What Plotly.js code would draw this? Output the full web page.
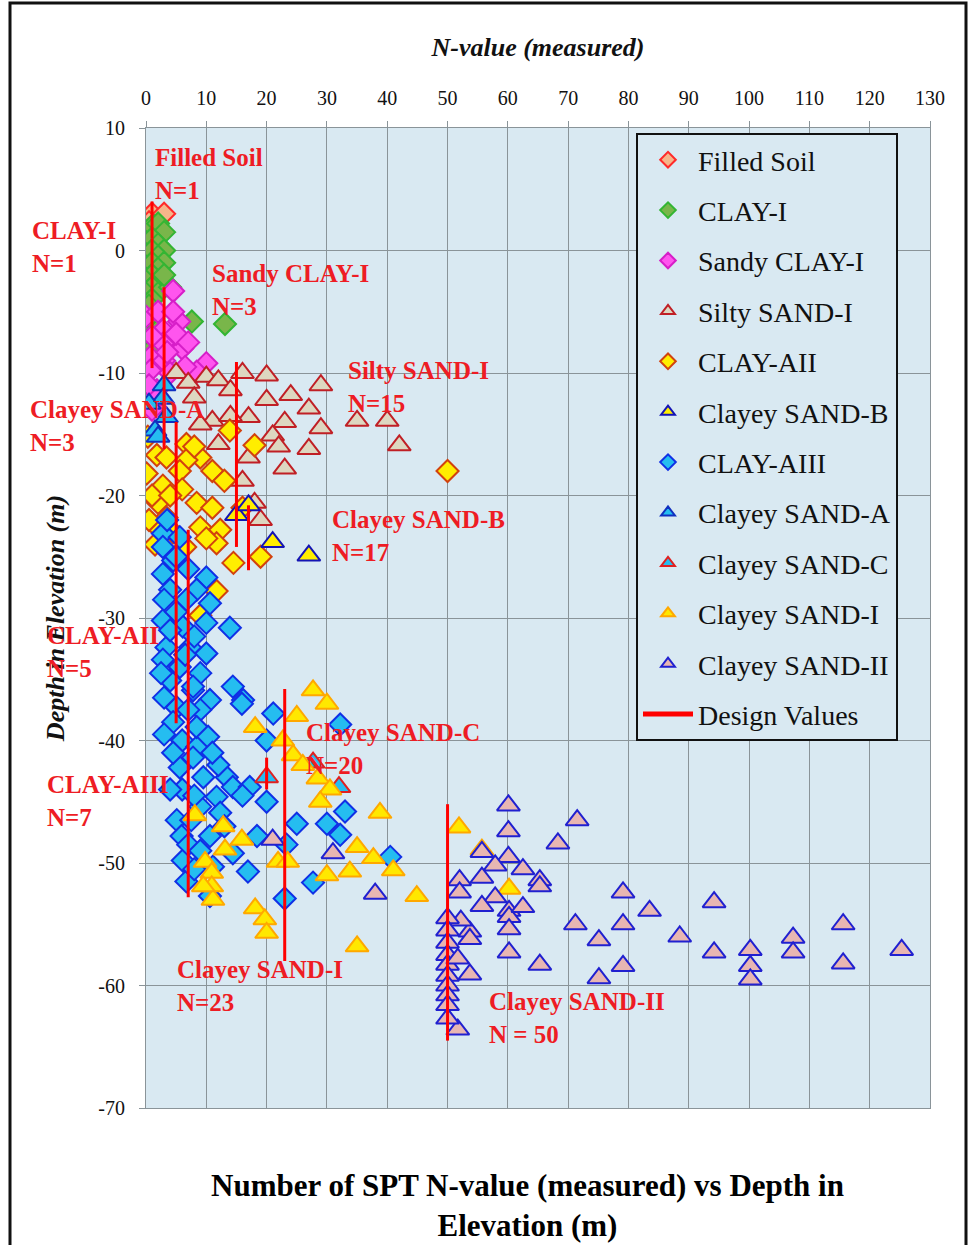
<!DOCTYPE html>
<html>
<head>
<meta charset="utf-8">
<script src="https://cdn.plot.ly/plotly-3.0.1.min.js"></script>
<style>html,body{margin:0;padding:0;background:#fff;}#chart{width:968px;height:1245px;}</style>
</head>
<body>
<div id="chart"></div>
<script>
// ---- data (N-value, elevation m) ----
const filledSoilN = [1, 3, 0.5];
const filledSoilZ = [3, 3, 2.3];

const clay1N = [1,2,3,1,2,3,1,2,1,3,2,1,0,2,1,0,2,1,0,1,0,1,4,3,7.6,13.1,2,0.5];
const clay1Z = [2,2.2,1.5,1,0.5,0,0,-0.5,-1,-1,-1.5,-2,-2.5,-2.5,-3,-3.5,-3.5,-4,-5,-6,-7,-8,-3,-2,-5.8,-6,-6.5,-4.5];

const sandyClay1N = [4.5,0,5.5,2.8,6,0.7,10,8.4,0.7,2.8,5,1.8,3,4,1,2,7,0.5,3.5,6.5,2,1,4.5];
const sandyClay1Z = [-3.3,-5.4,-5.8,-6.5,-8,-8.7,-9.2,-9.9,-9.8,-7.6,-6.8,-11.4,-9,-10,-7,-5,-7.5,-11,-8.3,-9.5,-12,-13,-5];

const siltySand1N = [5,7,10,12,16,20,29,14,20,8,11,17,23,27,29,35,40,42,27,21,12,17,23,16,18,19,24,14,9,22];
const siltySand1Z = [-10,-10.8,-10.3,-10.6,-10,-10.2,-11,-11.4,-12.2,-12,-13.9,-13.6,-14,-12.9,-14.5,-13.9,-13.9,-15.9,-16.2,-15.1,-15.8,-16.9,-17.8,-18.8,-20.6,-22,-11.8,-13.5,-14.2,-16];

const clayA2N = [0.3,1.8,0.1,2.8,2,6.7,9,11,13,6.7,5.6,8.4,11,3.4,2.3,9,12.3,18,13.9,11.7,14.5,19,6.5,8,3.4,1,6,4,10,50,11.7,9,4.5,16,0.5,1.5];
const clayA2Z = [-15.2,-16.7,-18.2,-19.2,-20.6,-15.8,-16.9,-18,-18.8,-17.1,-18,-20.6,-21,-21.8,-22.8,-22.6,-22.8,-15.9,-14.7,-23.9,-25.5,-25,-24.2,-16,-16.9,-20,-19.5,-20,-23.5,-18,-27.8,-29.8,-23,-21,-22,-24];

const clayeySandBN = [15,17,21,27];
const clayeySandBZ = [-21.6,-20.8,-23.8,-24.9];

const clayA3N = [2.8,5.6,2.8,4.5,2.8,10,8.4,10.6,4,6.7,13.9,2.8,6.1,10,3.4,7.3,10,2.8,5.6,9,4,14.4,16.1,7.8,10.6,5.1,9,21.1,
  3.5,5,7,3,5,8,4,2.5,6.5,3,7,4.5,3,6,8.5,
  7.8,8.4,10.3,7.8,5.6,9.5,13.4,14.4,11.7,9,12.3,5.1,10.6,5.9,6.1,11.1,6.7,10.6,14.4,16.9,15.9,20,17.2,20,25,30,33,32.2,18.4,23.3,40.5,27.7,23,32.2,6,8,4.5,7,9,13,8,12,16,11,4,7.5];
const clayA3Z = [-23.1,-23.4,-24.2,-25.3,-26.4,-26.7,-27.7,-28.8,-27.7,-28.5,-30.8,-30.2,-30.7,-30.4,-32.4,-32.4,-32.9,-33.4,-34,-34.5,-35.1,-35.6,-36.7,-35.9,-36.7,-37.3,-37.5,-37.8,
  -22,-25,-26,-28.5,-29.5,-31.5,-31,-34.5,-33,-36.5,-37.5,-38.5,-39.5,-40,-40.5,
  -35.6,-38.9,-39.7,-41.4,-42.2,-43,-43,-43.8,-44.6,-45.4,-45.9,-46.5,-47.8,-47.8,-49.8,-50.3,-51.5,-52.7,-49.2,-50.7,-37,-40,-43.8,-45,-46.8,-46.8,-45.8,-47.7,-47.8,-48.5,-49.5,-51.6,-52.9,-38.7,-44,-44.5,-41,-48.5,-49,-47,-50.5,-42,-44.5,-41,-44,-46.5];

const clayeySandAN = [3,2.8,3.4,1.5,2,0.5];
const clayeySandAZ = [-11,-12.1,-13.6,-14.7,-15.2,-12.5];

const clayeySandCN = [20,32,27.7];
const clayeySandCZ = [-43,-43.8,-41.8];

const clayeySand1N = [27.7,30,25,18.1,22.7,24.4,26,28.5,30.5,28.9,38.8,35,37.7,41,44.9,30,33.8,21.9,23.5,35,18.1,19.7,20,8.1,12.8,15.9,13.1,9.8,10.9,10.9,11.1,9.5,51.9,55.7,60.2];
const clayeySand1Z = [-35.9,-37,-38,-38.9,-40,-41.2,-42,-43.1,-44,-45,-45.9,-48.7,-49.6,-50.6,-52.7,-51,-50.7,-49.9,-49.9,-56.8,-53.7,-54.6,-55.7,-46.1,-47,-48.1,-48.9,-49.9,-50.8,-51.9,-53,-51.9,-47.1,-48.9,-52.1];

const clayeySand2N = [60.1,60.1,71.5,68.3,55.7,60.1,57.9,62.5,65.3,65.3,55.7,52,52,57.9,55.7,60.2,60.2,62.5,60.2,53.7,53.7,52.2,60.2,53.7,65.3,
  79.1,83.5,79.1,71.2,75.1,79.1,75.1,88.5,94.2,94.2,100.2,100.2,100.2,107.3,107.3,115.6,115.6,125.3,51.7,
  50,50,50,50,50,50,50,50,50,50,51.7,21,31,38];
const clayeySand2Z = [-45.3,-47.4,-46.5,-48.4,-49.1,-49.5,-50.2,-50.5,-51.4,-51.9,-51.2,-51.4,-52.4,-52.8,-53.5,-53.9,-54.4,-53.6,-55.4,-55.6,-56.2,-54.7,-57.3,-59.1,-58.3,
  -52.4,-53.9,-55,-55,-56.3,-58.4,-59.4,-56,-53.2,-57.3,-57.1,-58.4,-59.5,-56.1,-57.3,-55,-58.2,-57.1,-63.6,
  -54.5,-55.5,-56.5,-57.5,-58.3,-59.2,-60,-60.8,-61.6,-62.7,-57.8,-48.1,-49.2,-52.5];

// design values per layer
const designLayer = ["Filled Soil","CLAY-I","Sandy CLAY-I","Clayey SAND-A","Silty SAND-I","Clayey SAND-B","CLAY-AII","CLAY-AIII","Clayey SAND-C","Clayey SAND-I","Clayey SAND-II"];
const designN      = [1, 1, 3, 3, 15, 17, 5, 7, 20, 23, 50];
const designTop    = [4, 1, -3, -10.5, -9.1, -20.8, -14, -22.8, -41.4, -35.8, -45.2];
const designBottom = [1, -9.6, -10.5, -16.2, -24.2, -26.1, -38.6, -52.8, -44, -58, -64.5];

const labelText = ["Filled Soil<br>N=1","CLAY-I<br>N=1","Sandy CLAY-I<br>N=3","Silty SAND-I<br>N=15","Clayey SAND-A<br>N=3","Clayey SAND-B<br>N=17","CLAY-AII<br>N=5","Clayey SAND-C<br>N=20","CLAY-AIII<br>N=7","Clayey SAND-I<br>N=23","Clayey SAND-II<br>N = 50"];

// axis ticks
const xTickVals = [0,10,20,30,40,50,60,70,80,90,100,110,120,130];
const yTickVals = [10,0,-10,-20,-30,-40,-50,-60,-70];
const yTickText = ["10","0","-10","-20","-30","-40","-50","-60","-70"];

// ---- traces ----
function pts(name, xs, ys, symbol, fill, edge, size) {
  return {type:'scatter', mode:'markers', name:name, x:xs, y:ys, legendgroup:name,
    cliponaxis:true,
    marker:{symbol:symbol, size:size, color:fill, line:{color:edge, width:2}}};
}
const D = 17, T = 20;
const traces = [
  pts('Filled Soil', filledSoilN, filledSoilZ, 'diamond', '#f6b58a', '#ff2a2a', D),
  pts('CLAY-I', clay1N, clay1Z, 'diamond', '#79b64a', '#33b533', D),
  pts('Sandy CLAY-I', sandyClay1N, sandyClay1Z, 'diamond', '#ff55ee', '#d61fc8', D),
  pts('Silty SAND-I', siltySand1N, siltySand1Z, 'triangle-up', '#ddd7c0', '#c01f25', T),
  pts('CLAY-AII', clayA2N, clayA2Z, 'diamond', '#ffee00', '#d2420e', D),
  pts('Clayey SAND-B', clayeySandBN, clayeySandBZ, 'triangle-up', '#ffee00', '#1414b4', T),
  pts('CLAY-AIII', clayA3N, clayA3Z, 'diamond', '#25bdf0', '#1030e6', D),
  pts('Clayey SAND-A', clayeySandAN, clayeySandAZ, 'triangle-up', '#25bdf0', '#1030c0', T),
  pts('Clayey SAND-C', clayeySandCN, clayeySandCZ, 'triangle-up', '#25bdf0', '#e02020', T),
  pts('Clayey SAND-I', clayeySand1N, clayeySand1Z, 'triangle-up', '#ffe800', '#ffa800', T),
  pts('Clayey SAND-II', clayeySand2N, clayeySand2Z, 'triangle-up', '#e8b6b2', '#2020d0', T)
];
const dx = [], dy = [];
designN.forEach((n, i) => { dx.push(n, n, null); dy.push(designTop[i], designBottom[i], null); });
traces.push({type:'scatter', mode:'lines', name:'Design Values', legendgroup:'Design Values',
  x:dx, y:dy, line:{color:'#ff0000', width:3}, connectgaps:false});

// ---- layout ----
const serif = 'Liberation Serif, Times New Roman, serif';
const L = 146, R = 930, TOP = 128, BOT = 1108;
const px2x = p => (p - L) / (R - L);
const px2y = p => (BOT - p) / (BOT - TOP);
const labelPos = [[153,142],[30,215],[210,258],[346,355],[28,394],[330,504],[45,620],[304,717],[45,769],[175,954],[487,986]];
const annotations = labelText.map((t, i) => ({
  text:t, xref:'paper', yref:'paper', x:px2x(labelPos[i][0]), y:px2y(labelPos[i][1]),
  xanchor:'left', yanchor:'top', align:'left', showarrow:false,
  font:{family:serif, size:25, color:'#ee1c24', weight:'bold'}
}));
annotations.push({
  text:'<b>Number of SPT N-value (measured) vs Depth in<br>Elevation (m)</b>',
  xref:'paper', yref:'paper', x:px2x(527), y:px2y(1166), xanchor:'center', yanchor:'top',
  showarrow:false, align:'center', font:{family:serif, size:31, color:'#000'}
});

const layout = {
  width:968, height:1245,
  font:{family:serif, color:'#111'},
  margin:{l:L, r:968-R, t:TOP, b:1245-BOT},
  paper_bgcolor:'#ffffff', plot_bgcolor:'#d9e9f2',
  showlegend:true,
  legend:{x:px2x(636), y:px2y(133), xanchor:'left', yanchor:'top',
    bgcolor:'#d9e9f2', bordercolor:'#111', borderwidth:2,
    font:{family:serif, size:28, color:'#111'}, itemsizing:'constant',
    traceorder:'grouped', tracegroupgap:11, itemwidth:50,
    entrywidth:220, entrywidthmode:'pixels'},
  xaxis:{range:[0,130], side:'top', tickvals:xTickVals, showgrid:true, gridcolor:'#8a9499', gridwidth:1,
    zeroline:false, showline:true, linecolor:'#8a9499', mirror:true,
    ticks:'outside', ticklen:6, tickcolor:'#8a9499', ticklabelstandoff:8,
    tickfont:{family:serif, size:20, color:'#111'},
    title:{text:'<b><i>N-value (measured)</i></b>', font:{family:serif, size:26, color:'#111'}, standoff:22}},
  yaxis:{range:[-70,10], tickvals:yTickVals, ticktext:yTickText, showgrid:true, gridcolor:'#8a9499', gridwidth:1,
    zeroline:false, showline:true, linecolor:'#8a9499', mirror:true,
    ticks:'outside', ticklen:6, tickcolor:'#8a9499', ticklabelstandoff:10,
    tickfont:{family:serif, size:20, color:'#111'},
    title:{text:'<b><i>Depth in Elevation (m)</i></b>', font:{family:serif, size:26, color:'#111'}, standoff:26}},
  annotations:annotations,
  shapes:[{type:'rect', xref:'paper', yref:'paper', x0:px2x(10), x1:px2x(966), y0:px2y(1260), y1:px2y(3),
    line:{color:'#111', width:3}, fillcolor:'rgba(0,0,0,0)', layer:'below'}]
};
Plotly.newPlot('chart', traces, layout, {displayModeBar:false, staticPlot:true});
</script>
</body>
</html>
